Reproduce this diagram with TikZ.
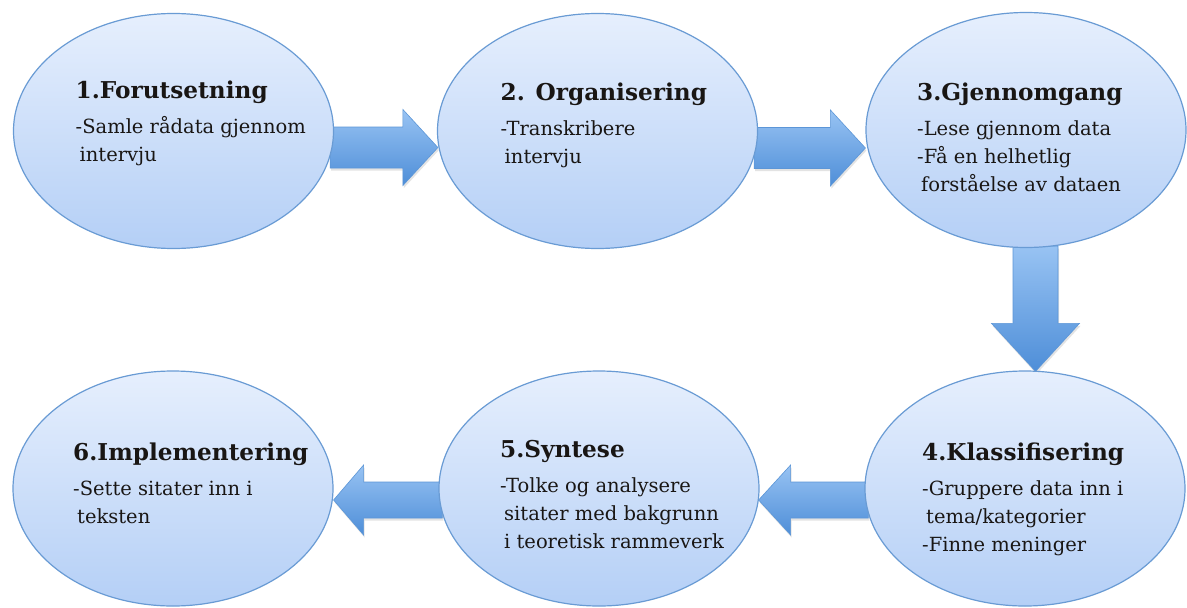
\documentclass[tikz,border=0pt]{standalone}
\usepackage{fontspec}
\setmainfont{DejaVu Serif}
\usetikzlibrary{shapes.geometric,calc,shadows,backgrounds}
\definecolor{elltop}{RGB}{230,239,253}
\definecolor{ellbot}{RGB}{180,207,246}
\definecolor{ellline}{RGB}{105,155,212}
\definecolor{arrtop}{RGB}{152,195,243}
\definecolor{arrbot}{RGB}{78,142,216}
\definecolor{arrline}{RGB}{92,150,215}
\definecolor{txtcol}{RGB}{25,22,20}
\tikzset{
  stage/.style={ellipse, draw=ellline, line width=1.2pt, top color=elltop, bottom color=ellbot,
    minimum width=320pt, minimum height=235pt, inner sep=0pt},
  stagetext/.style={anchor=base west, inner sep=0pt, text=txtcol, font=\fontsize{19.5}{28}\selectfont},
  blockarrow/.style={top color=arrtop, bottom color=arrbot, draw=arrline, line width=0.6pt,
    drop shadow={opacity=0.22, shadow xshift=1pt, shadow yshift=-2.5pt}},
}
\newcommand\ttl[1]{\hbox{\fontsize{23.2}{28}\selectfont\bfseries #1}\vskip7pt}
\newcommand\sline[1]{\hbox{#1}}
\newcommand\ind{\hspace*{4pt}}
% horizontal block arrow: tail, tip, signed head length, shaft half, head half
\newcommand\harrow[5]{\path[blockarrow] let \p1=#1, \p2=#2 in
  (\x1,{\y2+#4}) -- ({\x2-(#3)},{\y2+#4}) -- ({\x2-(#3)},{\y2+#5}) -- (\x2,\y2) --
  ({\x2-(#3)},{\y2-#5}) -- ({\x2-(#3)},{\y2-#4}) -- (\x1,{\y2-#4}) -- cycle;}
% downward block arrow: tail, tip, head length, shaft half, head half
\newcommand\varrow[5]{\path[blockarrow] let \p1=#1, \p2=#2 in
  ({\x2+#4},\y1) -- ({\x2+#4},{\y2+#3}) -- ({\x2+#5},{\y2+#3}) -- (\x2,\y2) --
  ({\x2-#5},{\y2+#3}) -- ({\x2-#4},{\y2+#3}) -- ({\x2-#4},\y1) -- cycle;}
\begin{document}
\begin{tikzpicture}[x=1pt,y=-1pt]
\useasboundingbox (0,0) rectangle (1187,608);
% stages
\node[stage] (e1) at (173.5,131) {};
\node[stage] (e2) at (597.5,131) {};
\node[stage] (e3) at (1026,130) {};
\node[stage] (e4) at (1025,488.5) {};
\node[stage] (e5) at (599,488.5) {};
\node[stage] (e6) at (173,488.5) {};
% arrows behind the stages
\begin{scope}[on background layer]
\fill[white] (0,0) rectangle (1187,608);
\harrow{($(e1.east)+(-4,16)$)}{($(e2.west)+(1,16.5)$)}{35pt}{20.5pt}{38pt}
\harrow{($(e2.east)+(-4,17)$)}{($(e3.west)+(0,18)$)}{35pt}{20.5pt}{38pt}
\varrow{($(e3.south)+(10,-2)$)}{($(e4.north)+(10.5,1)$)}{48pt}{22.5pt}{44pt}
\harrow{($(e4.west)+(4,11.5)$)}{($(e5.east)+(-1,11.5)$)}{-32pt}{18pt}{35pt}
\harrow{($(e5.west)+(4,11.5)$)}{($(e6.east)+(0,11.5)$)}{-30pt}{18pt}{35pt}
\end{scope}
% texts
\node[stagetext] (t1) at ($(e1.center)+(-98,-33)$)
  {\vtop{\ttl{1.Forutsetning}\sline{-Samle rådata gjennom}\sline{\ind intervju}}};
\node[stagetext] (t2) at ($(e2.center)+(-97,-31)$)
  {\vtop{\ttl{2. Organisering}\sline{-Transkribere}\sline{\ind intervju}}};
\node[stagetext] (t3) at ($(e3.center)+(-109,-30)$)
  {\vtop{\ttl{3.Gjennomgang}\sline{-Lese gjennom data}\sline{-Få en helhetlig}\sline{\ind forståelse av dataen}}};
\node[stagetext] (t4) at ($(e4.center)+(-103,-28)$)
  {\vtop{\ttl{4.Klassifisering}\sline{-Gruppere data inn i}\sline{\ind tema/kategorier}\sline{-Finne meninger}}};
\node[stagetext] (t5) at ($(e5.center)+(-99,-31)$)
  {\vtop{\ttl{5.Syntese}\sline{-Tolke og analysere}\sline{\ind sitater med bakgrunn}\sline{\ind i teoretisk rammeverk}}};
\node[stagetext] (t6) at ($(e6.center)+(-100,-28)$)
  {\vtop{\ttl{6.Implementering}\sline{-Sette sitater inn i}\sline{\ind teksten}}};
\end{tikzpicture}
\end{document}
